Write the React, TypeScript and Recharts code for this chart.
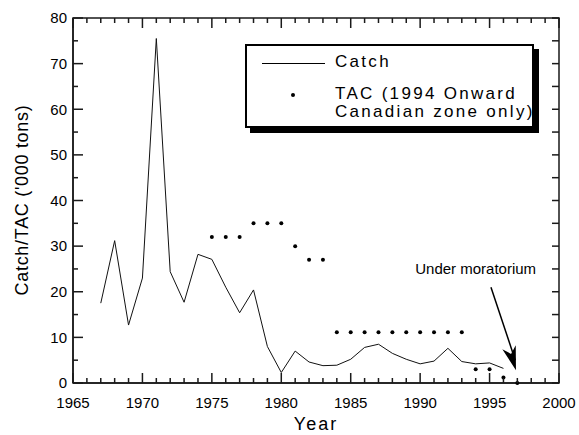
import { LineChart, Line, XAxis, YAxis, ReferenceLine, ReferenceDot, ReferenceArea, Legend } from 'recharts'

const years = [
  1967, 1968, 1969, 1970, 1971, 1972, 1973, 1974, 1975, 1976, 1977, 1978, 1979, 1980, 1981, 1982,
  1983, 1984, 1985, 1986, 1987, 1988, 1989, 1990, 1991, 1992, 1993, 1994, 1995, 1996, 1997,
]
const catchValues = [
  17.5, 31.2, 12.7, 23, 75.5, 24.4, 17.7, 28.2, 27.1, 21, 15.4, 20.4, 8, 2.3, 7, 4.6,
  3.8, 3.9, 5.2, 7.8, 8.5, 6.5, 5.2, 4.2, 4.8, 7.6, 4.7, 4.2, 4.4, 3.2, null,
]
const tacValues = [
  null, null, null, null, null, null, null, null, 32, 32, 32, 35, 35, 35, 30, 27,
  27, 11.1, 11.1, 11.1, 11.1, 11.1, 11.1, 11.1, 11.1, 11.1, 11.1, 3, 3, 1.2, 0,
]

const yearLabels = [1965, 1970, 1975, 1980, 1985, 1990, 1995, 2000]
const yearTicks = [
  1965, 1966, 1967, 1968, 1969, 1970, 1971, 1972, 1973, 1974, 1975, 1976, 1977, 1978, 1979, 1980,
  1981, 1982, 1983, 1984, 1985, 1986, 1987, 1988, 1989, 1990, 1991, 1992, 1993, 1994, 1995, 1996,
  1997, 1998, 1999, 2000,
]
const valueLabels = [0, 10, 20, 30, 40, 50, 60, 70, 80]
const valueTicks = [0, 5, 10, 15, 20, 25, 30, 35, 40, 45, 50, 55, 60, 65, 70, 75, 80]

const data = years.map((year, i) => ({ year, catch: catchValues[i], tac: tacValues[i] }))

const FONT = 'Liberation Sans, Arial, sans-serif'
const INK = '#1a1a1a'
const W = 579
const H = 435
const PLOT_W = 486
const PLOT_H = 365

// inward ticks on bottom + top edge, label on the 5-year marks
function XTick(p: any) {
  const { x, y, payload } = p
  const v = payload.value
  const axisY = y - 14
  const major = yearLabels.includes(v)
  const len = major ? 10 : 5
  return (
    <g>
      <line x1={x} x2={x} y1={axisY} y2={axisY - len} stroke={INK} strokeWidth={1.5} />
      <line x1={x} x2={x} y1={axisY - PLOT_H} y2={axisY - PLOT_H + len} stroke={INK} strokeWidth={1.5} />
      {major && (
        <text x={x} y={y} dy="0.71em" textAnchor="middle" fontSize={15} fontFamily={FONT} fill="#000">{v}</text>
      )}
    </g>
  )
}

// inward ticks on left + right edge, label on the tens
function YTick(p: any) {
  const { x, y, payload } = p
  const v = payload.value
  const axisX = x + 4
  const major = valueLabels.includes(v)
  return (
    <g>
      <line x1={axisX} x2={axisX + (major ? 10 : 5)} y1={y} y2={y} stroke={INK} strokeWidth={1.5} />
      <line x1={axisX + PLOT_W} x2={axisX + PLOT_W - 7} y1={y} y2={y} stroke={INK} strokeWidth={1.5} />
      {major && (
        <text x={x - 2} y={y} dy="0.355em" textAnchor="end" fontSize={15} fontFamily={FONT} fill="#000">{v}</text>
      )}
    </g>
  )
}

function LegendBox() {
  return (
    <div
      style={{
        position: 'relative',
        width: 289,
        height: 84,
        boxSizing: 'border-box',
        border: '2px solid #000',
        boxShadow: '5px 5px 0 #000',
        background: '#fff',
        color: '#000',
        fontSize: 17,
        letterSpacing: 2.3,
        fontFamily: FONT,
      }}
    >
      <div style={{ position: 'absolute', left: 15, top: 17, width: 63, borderTop: '1px solid #000' }} />
      <div style={{ position: 'absolute', left: 88, top: 6, lineHeight: '20px' }}>Catch</div>
      <div style={{ position: 'absolute', left: 44, top: 47, width: 4, height: 4, borderRadius: 2, background: '#000' }} />
      <div style={{ position: 'absolute', left: 88, top: 39, lineHeight: '18px', whiteSpace: 'nowrap' }}>
        TAC (1994 Onward
        <br />
        Canadian zone only)
      </div>
    </div>
  )
}

// arrow head pointing along the shaft (down and slightly right)
function ArrowHead(p: any) {
  const { cx, cy } = p
  const ux = 0.288
  const uy = 0.958
  const nx = -uy
  const ny = ux
  const bx = cx - ux * 24
  const by = cy - uy * 24
  const notchX = cx - ux * 17
  const notchY = cy - uy * 17
  const pts = [
    [cx, cy],
    [bx + nx * 7, by + ny * 7],
    [notchX, notchY],
    [bx - nx * 7, by - ny * 7],
  ]
    .map((q) => q.join(','))
    .join(' ')
  return <polygon points={pts} fill="#000" />
}

export default function App() {
  return (
    <div style={{ position: 'absolute', left: 0, top: 0, width: W, height: H, background: '#fff' }}>
      <LineChart width={W} height={H} data={data} margin={{ top: 18, right: 20, bottom: 0, left: 0 }}>
        <XAxis dataKey="year" type="number" domain={[1965, 2000]} ticks={yearTicks} interval={0} height={52}
          tickSize={0} tickMargin={14} tick={XTick} axisLine={{ stroke: INK, strokeWidth: 1.5 }} />
        <YAxis type="number" domain={[0, 80]} ticks={valueTicks} interval={0} width={73}
          tickSize={0} tickMargin={4} tick={YTick} axisLine={{ stroke: INK, strokeWidth: 1.5 }} />
        <ReferenceArea x1={1965} x2={2000} y1={0} y2={80} fill="none" stroke={INK} strokeWidth={1.5} />
        <Legend layout="horizontal" verticalAlign="middle" align="center" content={LegendBox}
          wrapperStyle={{ left: 245, top: 44, width: 'auto', height: 'auto' }} />
        <Line dataKey="catch" stroke="#111" dot={false} isAnimationActive={false} />
        <Line dataKey="tac" stroke="none" dot={{ r: 2, fill: '#000', stroke: 'none' }} isAnimationActive={false} />
        <ReferenceDot x={1994} y={25} r={0} fill="none" stroke="none"
          label={{ value: 'Under moratorium', position: 'center', fontSize: 15, fontFamily: FONT, fill: '#000' }} />
        <ReferenceLine segment={[{ x: 1995.1, y: 21 }, { x: 1996.85, y: 5 }]} stroke="#000" strokeWidth={1.5} ifOverflow="visible" />
        <ReferenceDot x={1996.9} y={2.8} r={3} shape={ArrowHead} ifOverflow="visible" />
      </LineChart>
      <div style={{ position: 'absolute', left: 73, top: 414, width: PLOT_W, textAlign: 'center', fontSize: 18, letterSpacing: 2, lineHeight: '20px', color: '#000', fontFamily: FONT }}>
        Year
      </div>
      <div
        style={{
          position: 'absolute',
          left: 22 - 150,
          top: 200 - 10,
          width: 300,
          height: 20,
          lineHeight: '20px',
          textAlign: 'center',
          transform: 'rotate(-90deg)',
          fontSize: 18,
          letterSpacing: 0.7,
          color: '#000',
          whiteSpace: 'nowrap',
          fontFamily: FONT,
        }}
      >
        Catch/TAC ('000 tons)
      </div>
    </div>
  )
}
